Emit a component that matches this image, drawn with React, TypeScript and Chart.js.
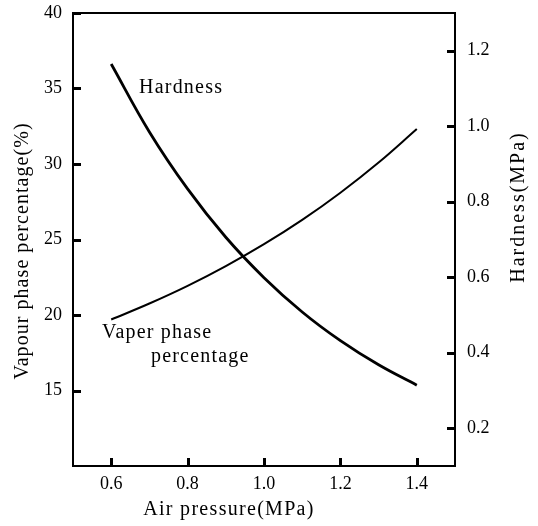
import React, { useEffect, useRef } from 'react';
import { Chart, registerables } from 'chart.js';

Chart.register(...registerables);

// ---- data ----
const pressure = [0.6, 0.7, 0.8, 0.9, 1.0, 1.1, 1.2, 1.3, 1.4];
const hardness = [1.165, 0.985, 0.834, 0.706, 0.599, 0.508, 0.432, 0.368, 0.314];
const vapourPct = [19.7, 20.76, 21.93, 23.24, 24.69, 26.3, 28.1, 30.1, 32.32];

const xTicks = [0.6, 0.8, 1.0, 1.2, 1.4];
const leftTicks = [15, 20, 25, 30, 35, 40];
const rightTicks = [0.2, 0.4, 0.6, 0.8, 1.0, 1.2];

const xTitle = 'Air pressure(MPa)';
const leftTitle = 'Vapour phase percentage(%)';
const rightTitle = 'Hardness(MPa)';
const hardnessLabel = 'Hardness';
const vapourLabel = ['Vaper phase', 'percentage'];

const FONT = "'Liberation Serif', 'Times New Roman', serif";

const textPlugin = {
  id: 'frameAndText',
  afterDraw(chart: any) {
    const ctx = chart.ctx as CanvasRenderingContext2D;
    const a = chart.chartArea;
    const xs = chart.scales.x;
    const ys = chart.scales.y;
    const y1 = chart.scales.y1;
    ctx.save();
    // frame
    ctx.strokeStyle = '#000';
    ctx.lineWidth = 2;
    ctx.strokeRect(a.left, a.top, a.right - a.left, a.bottom - a.top);

    // inward tick marks
    ctx.fillStyle = '#000';
    xTicks.forEach((v) => {
      const px = Math.round(xs.getPixelForValue(v));
      ctx.fillRect(px - 1, a.bottom - 8, 3, 8);
    });
    leftTicks.forEach((v) => {
      const py = Math.round(ys.getPixelForValue(v));
      ctx.fillRect(a.left - 1, py - 1, 9, 3);
    });
    rightTicks.forEach((v) => {
      const py = Math.round(y1.getPixelForValue(v));
      ctx.fillRect(a.right - 8, py - 1, 9, 3);
    });

    ctx.textBaseline = 'alphabetic';

    // in-plot annotations
    ctx.font = `20px ${FONT}`;
    (ctx as any).letterSpacing = '1.2px';
    ctx.textAlign = 'left';
    ctx.fillText(hardnessLabel, xs.getPixelForValue(0.673), ys.getPixelForValue(34.7));
    ctx.fillText(vapourLabel[0], xs.getPixelForValue(0.576), ys.getPixelForValue(18.48));
    ctx.fillText(vapourLabel[1], xs.getPixelForValue(0.704), ys.getPixelForValue(16.89));

    // bottom title
    (ctx as any).letterSpacing = '1.3px';
    ctx.textAlign = 'center';
    ctx.fillText(xTitle, 229, 515);

    // left title
    ctx.save();
    (ctx as any).letterSpacing = '1.05px';
    ctx.translate(28, 251);
    ctx.rotate(-Math.PI / 2);
    ctx.textAlign = 'center';
    ctx.fillText(leftTitle, 0, 0);
    ctx.restore();

    // right title
    ctx.save();
    (ctx as any).letterSpacing = '2px';
    ctx.translate(524, 207);
    ctx.rotate(-Math.PI / 2);
    ctx.textAlign = 'center';
    ctx.fillText(rightTitle, 0, 0);
    ctx.restore();

    ctx.restore();
  },
};

const zeroPad = (s: any) => {
  s.paddingTop = 0;
  s.paddingBottom = 0;
  s.paddingLeft = 0;
  s.paddingRight = 0;
};

export default function App() {
  const canvasRef = useRef<HTMLCanvasElement | null>(null);

  useEffect(() => {
    if (!canvasRef.current) return;
    const tickFont = { family: FONT, size: 18 };
    const gridOpts = { drawOnChartArea: false, drawTicks: false };
    const chart = new Chart(canvasRef.current, {
      type: 'line',
      data: {
        datasets: [
          {
            label: 'Hardness',
            data: pressure.map((x, i) => ({ x, y: hardness[i] })),
            yAxisID: 'y1',
            borderColor: '#000',
            borderWidth: 2.8,
            pointRadius: 0,
            tension: 0.4,
            fill: false,
          },
          {
            label: 'Vapour phase percentage',
            data: pressure.map((x, i) => ({ x, y: vapourPct[i] })),
            yAxisID: 'y',
            borderColor: '#000',
            borderWidth: 2,
            pointRadius: 0,
            tension: 0.4,
            fill: false,
          },
        ],
      },
      options: {
        responsive: false,
        animation: false,
        devicePixelRatio: 1,
        layout: { padding: { top: 13, left: 0, right: 0, bottom: 0 } },
        plugins: {
          legend: { display: false },
          tooltip: { enabled: false },
        },
        scales: {
          x: {
            type: 'linear',
            position: 'bottom',
            min: 0.5,
            max: 1.5,
            afterBuildTicks: (s: any) => {
              s.ticks = xTicks.map((v) => ({ value: v }));
            },
            afterFit: (s: any) => {
              s.height = 60;
              zeroPad(s);
            },
            grid: gridOpts,
            border: { display: false },
            ticks: {
              color: '#000',
              font: tickFont,
              padding: 7,
              maxRotation: 0,
              autoSkip: false,
              callback: (v: any) => Number(v).toFixed(1),
            },
          },
          y: {
            type: 'linear',
            position: 'left',
            min: 10,
            max: 40,
            afterBuildTicks: (s: any) => {
              s.ticks = leftTicks.map((v) => ({ value: v }));
            },
            afterFit: (s: any) => {
              s.width = 73;
              zeroPad(s);
            },
            grid: gridOpts,
            border: { display: false },
            ticks: {
              color: '#000',
              font: tickFont,
              padding: 11,
              autoSkip: false,
              callback: (v: any) => String(Math.round(Number(v))),
            },
          },
          y1: {
            type: 'linear',
            position: 'right',
            min: 0.1,
            max: 1.3,
            afterBuildTicks: (s: any) => {
              s.ticks = rightTicks.map((v) => ({ value: v }));
            },
            afterFit: (s: any) => {
              s.width = 83;
              zeroPad(s);
            },
            grid: gridOpts,
            border: { display: false },
            ticks: {
              color: '#000',
              font: tickFont,
              padding: 12,
              autoSkip: false,
              callback: (v: any) => Number(v).toFixed(1),
            },
          },
        },
      } as any,
      plugins: [textPlugin],
    });
    return () => chart.destroy();
  }, []);

  return (
    <div style={{ position: 'fixed', left: 0, top: 0, width: 538, height: 526, background: '#fff' }}>
      <canvas ref={canvasRef} width={538} height={526} style={{ display: 'block', width: 538, height: 526 }} />
    </div>
  );
}
